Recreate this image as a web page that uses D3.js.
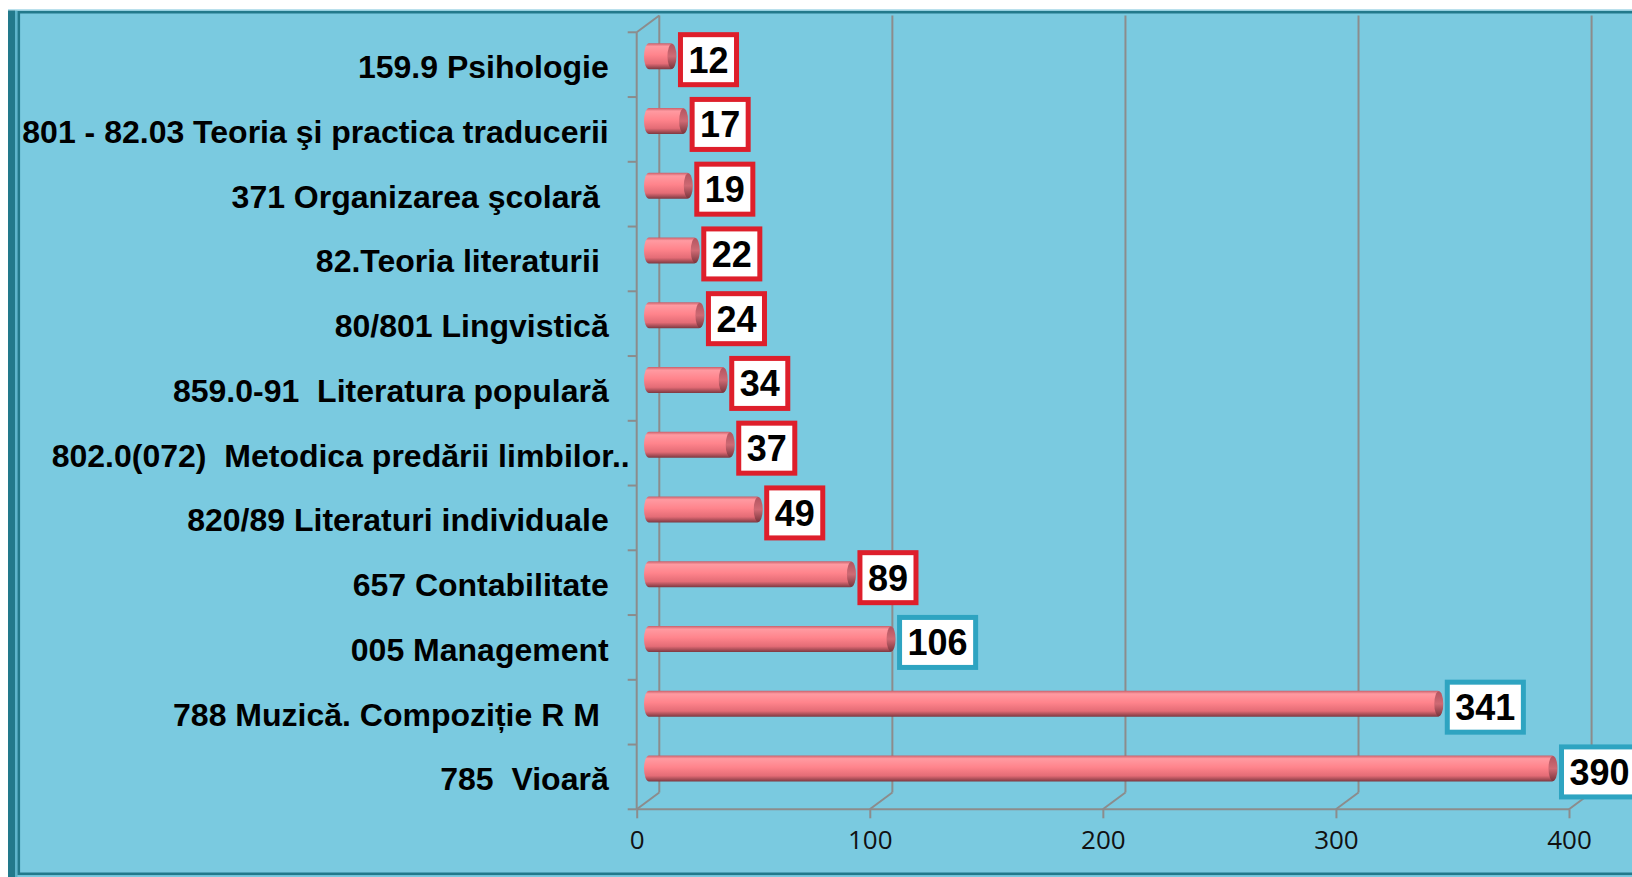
<!DOCTYPE html>
<html>
<head>
<meta charset="utf-8">
<script src="https://cdn.jsdelivr.net/npm/d3@7"></script>
<style>
  html, body { margin: 0; padding: 0; background: #fff; overflow: hidden; }
  svg { display: block; }
  .cat text { white-space: pre; }
</style>
</head>
<body>
<div id="chart"></div>
<script>
// categories, top to bottom
var categories = [
  "159.9 Psihologie",
  "801 - 82.03 Teoria şi practica traducerii",
  "371 Organizarea şcolară ",
  "82.Teoria literaturii ",
  "80/801 Lingvistică",
  "859.0-91  Literatura populară",
  "802.0(072)  Metodica predării limbilor..",
  "820/89 Literaturi individuale",
  "657 Contabilitate",
  "005 Management",
  "788 Muzică. Compoziție R M ",
  "785  Vioară"
];
var values = [12, 17, 19, 22, 24, 34, 37, 49, 89, 106, 341, 390];
var xTicks = [0, 100, 200, 300, 400];

var svgWidth = 1632, svgHeight = 877;

// plot geometry (front plane)
var plot = {left: 636.7, right: 1569, top: 32.3, bottom: 809.3};
var depth = {dx: 22.6, dy: -16.8};
var barThick = 26;

var svg = d3.select("#chart").append("svg")
  .attr("width", svgWidth)
  .attr("height", svgHeight);

var defs = svg.append("defs");
var grad = defs.append("linearGradient")
  .attr("id", "barGrad").attr("x1", 0).attr("y1", 0).attr("x2", 0).attr("y2", 1);
grad.append("stop").attr("offset", "0%").attr("stop-color", "#c9606b");
grad.append("stop").attr("offset", "12%").attr("stop-color", "#ff9aa1");
grad.append("stop").attr("offset", "45%").attr("stop-color", "#ff848c");
grad.append("stop").attr("offset", "78%").attr("stop-color", "#e46c76");
grad.append("stop").attr("offset", "100%").attr("stop-color", "#7c3841");

var capGrad = defs.append("linearGradient")
  .attr("id", "capGrad").attr("x1", 0).attr("y1", 0).attr("x2", 0).attr("y2", 1);
capGrad.append("stop").attr("offset", "0%").attr("stop-color", "#b35560");
capGrad.append("stop").attr("offset", "50%").attr("stop-color", "#cf6a74");
capGrad.append("stop").attr("offset", "100%").attr("stop-color", "#7a343c");

// background + frame
svg.append("rect").attr("x", 0).attr("y", 0).attr("width", svgWidth).attr("height", svgHeight).attr("fill", "#fff");
svg.append("rect").attr("x", 8).attr("y", 9.5).attr("width", svgWidth).attr("height", svgHeight)
  .attr("fill", "#7acae0");
svg.append("rect").attr("x", 8).attr("y", 10).attr("width", 7).attr("height", svgHeight).attr("fill", "#22798b");
svg.append("rect").attr("x", 15).attr("y", 10).attr("width", 2.5).attr("height", svgHeight).attr("fill", "#5db4ca");
svg.append("rect").attr("x", 18.8).attr("y", 12.2).attr("width", svgWidth).attr("height", 861.6)
  .attr("fill", "none").attr("stroke", "#22798b").attr("stroke-width", 2.6);
svg.append("line").attr("x1", 8).attr("x2", svgWidth).attr("y1", 10).attr("y2", 10)
  .attr("stroke", "#b9dde8").attr("stroke-width", 1);

var x = d3.scaleLinear().domain([0, 400]).range([plot.left, plot.right]);
var y = d3.scaleBand().domain(categories).range([plot.top, plot.bottom]).padding(0);

var grid = svg.append("g").attr("stroke", "#8c8c8c").attr("stroke-width", 2).attr("fill", "none");

// back wall gridlines and floor diagonals
xTicks.forEach(function(t) {
  grid.append("line")
    .attr("x1", x(t) + depth.dx).attr("x2", x(t) + depth.dx)
    .attr("y1", plot.top + depth.dy).attr("y2", plot.bottom + depth.dy);
  grid.append("line")
    .attr("x1", x(t)).attr("y1", plot.bottom)
    .attr("x2", x(t) + depth.dx).attr("y2", plot.bottom + depth.dy);
});
// side wall
grid.append("line").attr("x1", plot.left).attr("x2", plot.left).attr("y1", plot.top).attr("y2", plot.bottom);
grid.append("line").attr("x1", plot.left).attr("y1", plot.top)
  .attr("x2", plot.left + depth.dx).attr("y2", plot.top + depth.dy);
// category ticks at band edges
categories.concat([null]).forEach(function(c) {
  var yy = c === null ? plot.bottom : y(c);
  grid.append("line").attr("x1", plot.left - 9).attr("x2", plot.left).attr("y1", yy).attr("y2", yy);
});

// x axis
var xAxis = d3.axisBottom(x).tickValues(xTicks).tickSize(9).tickPadding(12);
var gx = svg.append("g").attr("transform", "translate(0," + plot.bottom + ")").call(xAxis);
gx.select(".domain").attr("stroke", "#8c8c8c").attr("stroke-width", 2)
  .attr("d", "M" + plot.left + ",0H" + plot.right);
gx.selectAll(".tick line").attr("stroke", "#8c8c8c").attr("stroke-width", 2);
gx.selectAll(".tick text")
  .attr("font-family", "'Open Sans', 'DejaVu Sans', sans-serif")
  .attr("font-size", 26)
  .attr("fill", "#111")
  .attr("dy", "0.71em");

// category labels
var yAxis = d3.axisLeft(y).tickSize(0).tickPadding(28);
var gy = svg.append("g").attr("class", "cat").attr("transform", "translate(" + plot.left + ",0)").call(yAxis);
gy.select(".domain").remove();
gy.selectAll(".tick text")
  .attr("font-family", "'Liberation Sans Narrow', 'Arial Narrow', sans-serif")
  .attr("font-weight", "bold")
  .attr("font-size", 32)
  .attr("fill", "#000")
  .attr("dy", "0.42em")
  .attr("dx", function(d) { return /\.\.$/.test(d) ? 21 : 0; });

// bars (cylinders)
var bars = svg.append("g").selectAll("g")
  .data(values)
  .enter().append("g")
  .attr("transform", function(d, i) {
    var cy = y(categories[i]) + y.bandwidth() / 2 + depth.dy / 2;
    return "translate(" + (depth.dx / 2) + "," + (cy - barThick / 2) + ")";
  });

bars.append("rect")
  .attr("x", x(0) - 4)
  .attr("y", 0)
  .attr("width", function(d) { return x(d) - x(0) + 4; })
  .attr("height", barThick)
  .attr("rx", 5).attr("ry", barThick / 2)
  .attr("fill", "url(#barGrad)");

bars.append("ellipse")
  .attr("cx", function(d) { return x(d) - 4; })
  .attr("cy", barThick / 2)
  .attr("rx", 4.5).attr("ry", barThick / 2 - 0.5)
  .attr("fill", "url(#capGrad)");

// value labels
var labels = svg.append("g").selectAll("g")
  .data(values)
  .enter().append("g")
  .attr("transform", function(d, i) {
    var cy = y(categories[i]) + y.bandwidth() / 2 - 5;
    return "translate(" + (x(d) + depth.dx / 2 + 2) + "," + cy + ")";
  });

labels.each(function(d) {
  var g = d3.select(this);
  var t = g.append("text")
    .attr("font-family", "'Liberation Sans', Arial, sans-serif")
    .attr("font-weight", "bold")
    .attr("font-size", 36)
    .attr("fill", "#000")
    .attr("text-anchor", "middle")
    .attr("dy", 13)
    .text(d);
  var w = t.node().getComputedTextLength() + 21;
  t.attr("x", w / 2);
  g.insert("rect", "text")
    .attr("x", 2.5).attr("y", -25)
    .attr("width", w - 5).attr("height", 50)
    .attr("fill", "#fff")
    .attr("stroke", d >= 100 ? "#2ea4c1" : "#de1f2b")
    .attr("stroke-width", 5);
});
</script>
</body>
</html>
